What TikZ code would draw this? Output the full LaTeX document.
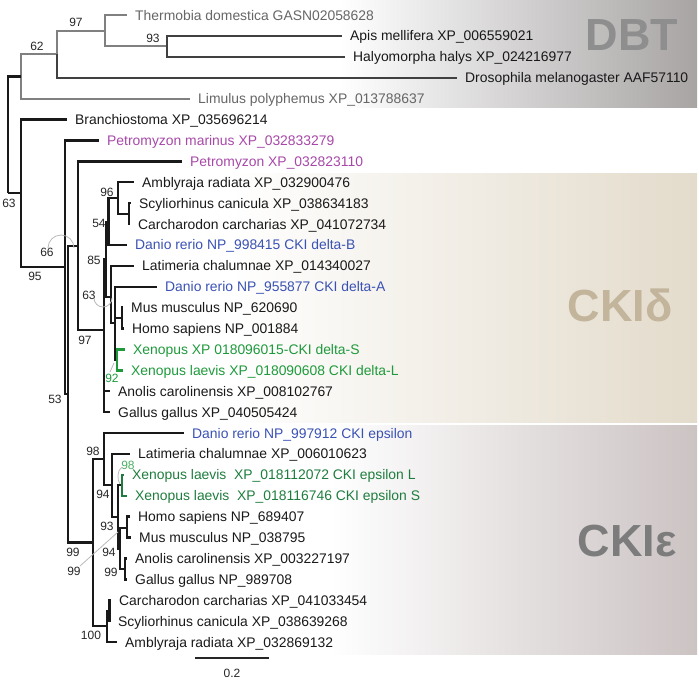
\documentclass[tikz,border=0pt]{standalone}
\usepackage{fontspec}
\setmainfont{Liberation Sans}
\usetikzlibrary{positioning}
\definecolor{dbtbg}{HTML}{A8A4A4}
\definecolor{deltabg}{HTML}{E3DBCB}
\definecolor{epsbg}{HTML}{CCC3C3}
\definecolor{dbttext}{HTML}{8E8E8E}
\definecolor{deltatext}{HTML}{C2B59B}
\definecolor{epstext}{HTML}{7C7C7C}
\definecolor{dbtleaf}{HTML}{666666}
\definecolor{dbtline}{HTML}{808080}
\definecolor{lamprey}{HTML}{A748A8}
\definecolor{danio}{HTML}{3A52B4}
\definecolor{xenoD}{HTML}{1E9A3C}
\definecolor{xenoE}{HTML}{1E7D3E}

\begin{document}
\begin{tikzpicture}[x=1pt, y=-1pt,
    leaf/.style={anchor=west, inner xsep=8pt, inner ysep=0pt, text height=10pt, text depth=0pt,
                 font=\fontsize{13.9}{16}\selectfont, text=black!90},
    boot/.style={inner sep=0pt, font=\fontsize{12}{14}\selectfont, text=black!85},
    clade/.style={inner sep=0pt, font=\bfseries\fontsize{45}{50}\selectfont},
    limb/.style={line width=2.4pt, black!90},
    graylimb/.style={line width=2pt, dbtline},
    darklimb/.style={line width=2pt, black!75},
    greenlimb/.style={line width=2.4pt},
    callout/.style={line width=0.8pt, gray!55}]
    \useasboundingbox (0,0) rectangle (699,681);

    % Clade backgrounds
    \shade[left color=white, right color=dbtbg] (340,0) rectangle (697,107);
    \shade[left color=white, right color=deltabg] (230,173) rectangle (697,422);
    \shade[left color=white, right color=epsbg] (330,425) rectangle (697,654);
    \node[clade, text=dbttext] (dbt) at (632,35) {DBT};
    \node[clade, text=deltatext] (ckid) at (620,305) {CKIδ};
    \node[clade, text=epstext] (ckie) at (627,541) {CKIε};

    % Leaves
    \node[leaf, text=dbtleaf] (thermobia) at (127,15) {Thermobia domestica GASN02058628};
    \node[leaf] (apis) at (342,35.9) {Apis mellifera XP\_006559021};
    \node[leaf] (halyo) at (345,56.8) {Halyomorpha halys XP\_024216977};
    \node[leaf] (droso) at (457,77.7) {Drosophila melanogaster AAF57110};
    \node[leaf, text=dbtleaf] (limulus) at (190,98.6) {Limulus polyphemus XP\_013788637};
    \node[leaf] (branchio) at (67,119.5) {Branchiostoma XP\_035696214};
    \node[leaf, text=lamprey] (petmar) at (99,140.4) {Petromyzon marinus XP\_032833279};
    \node[leaf, text=lamprey] (petro) at (182,161.3) {Petromyzon XP\_032823110};
    % CKI delta
    \node[leaf] (amblyD) at (134,182.2) {Amblyraja radiata XP\_032900476};
    \node[leaf] (scylD) at (131,203.1) {Scyliorhinus canicula XP\_038634183};
    \node[leaf] (carchD) at (130,224) {Carcharodon carcharias XP\_041072734};
    \node[leaf, text=danio] (danioB) at (127,244.9) {Danio rerio NP\_998415 CKI delta-B};
    \node[leaf] (latD) at (134,265.8) {Latimeria chalumnae XP\_014340027};
    \node[leaf, text=danio] (danioA) at (157,286.7) {Danio rerio NP\_955877 CKI delta-A};
    \node[leaf] (musD) at (123,307.6) {Mus musculus NP\_620690};
    \node[leaf] (homoD) at (124,328.5) {Homo sapiens NP\_001884};
    \node[leaf, text=xenoD] (xenS) at (125,349.4) {Xenopus XP 018096015-CKI delta-S};
    \node[leaf, text=xenoD] (xenL) at (123,370.3) {Xenopus laevis XP\_018090608 CKI delta-L};
    \node[leaf] (anoD) at (110,391.2) {Anolis carolinensis XP\_008102767};
    \node[leaf] (galD) at (110,412.1) {Gallus gallus XP\_040505424};
    % CKI epsilon
    \node[leaf, text=danio] (danioE) at (184,433) {Danio rerio NP\_997912 CKI epsilon};
    \node[leaf] (latE) at (130,453.9) {Latimeria chalumnae XP\_006010623};
    \node[leaf, text=xenoE] (xenEL) at (124,474.8) {Xenopus laevis\ \ XP\_018112072 CKI epsilon L};
    \node[leaf, text=xenoE] (xenES) at (127,495.7) {Xenopus laevis\ \ XP\_018116746 CKI epsilon S};
    \node[leaf] (homoE) at (130,516.6) {Homo sapiens NP\_689407};
    \node[leaf] (musE) at (131,537.5) {Mus musculus NP\_038795};
    \node[leaf] (anoE) at (127,558.4) {Anolis carolinensis XP\_003227197};
    \node[leaf] (galE) at (127,579.3) {Gallus gallus NP\_989708};
    \node[leaf] (carchE) at (111,600.2) {Carcharodon carcharias XP\_041033454};
    \node[leaf] (scylE) at (110,621.1) {Scyliorhinus canicula XP\_038639268};
    \node[leaf] (amblyE) at (117,642) {Amblyraja radiata XP\_032869132};

    % Internal nodes
    \coordinate (root) at (8,193);
    \coordinate (nLim) at (21,76.4);
    \coordinate (n62) at (57,54.2);
    \coordinate (n97) at (105,30.7);
    \coordinate (n93) at (167,46.4);
    \coordinate (nChord) at (21,193);
    \coordinate (nA) at (65,267);
    \coordinate (nB) at (68,394);
    \coordinate (nC) at (78,246);
    \coordinate (nDelta) at (104,330);
    \coordinate (n85) at (106,259);
    \coordinate (n54) at (108.5,222);
    \coordinate (n96) at (118,198);
    \coordinate (nSC) at (129,214);
    \coordinate (nLat) at (111,297);
    \coordinate (nTet) at (115,323);
    \coordinate (nMH) at (122,318);
    \coordinate (nXD) at (117,360);
    \coordinate (nEps) at (93,542.5);
    \coordinate (n98) at (104,459);
    \coordinate (n94) at (112,485);
    \coordinate (n93e) at (118,517);
    \coordinate (nXE) at (122,485);
    \coordinate (nAmn) at (120,549);
    \coordinate (nHM) at (127,528);
    \coordinate (nAG) at (125,569);
    \coordinate (nShark) at (107,626);
    \coordinate (nCS) at (109.5,611);

    % Branches
    \foreach \p/\c in {nLim/n62, nLim/limulus.west, n62/n97, n97/thermobia.west, n97/n93}
        \draw[graylimb] (\p) |- (\c);
    \foreach \p/\c in {n93/apis.west, n93/halyo.west, n62/droso.west}
        \draw[darklimb] (\p) |- (\c);
    \foreach \p/\c in {root/nLim, root/nChord, nChord/branchio.west, nChord/nA, nA/petmar.west,
        nA/nB, nB/nC, nB/nEps, nC/petro.west, nC/nDelta, nDelta/n85, nDelta/anoD.west,
        nDelta/galD.west, n85/n54, n85/nLat, n54/n96, n54/danioB.west, n96/amblyD.west,
        n96/nSC, nSC/scylD.west, nSC/carchD.west, nLat/latD.west, nLat/nTet,
        nTet/danioA.west, nTet/nMH, nTet/nXD, nMH/musD.west, nMH/homoD.west,
        nEps/n98, nEps/nShark, n98/danioE.west, n98/n94, n94/latE.west, n94/n93e,
        n93e/nXE, n93e/nAmn, nAmn/nHM, nAmn/nAG, nHM/homoE.west, nHM/musE.west,
        nAG/anoE.west, nAG/galE.west, nShark/nCS, nShark/amblyE.west,
        nCS/carchE.west, nCS/scylE.west}
        \draw[limb] (\p) |- (\c);
    \foreach \c in {xenS, xenL}
        \draw[greenlimb, xenoD] (nXD) |- (\c.west);
    \foreach \c in {xenEL, xenES}
        \draw[greenlimb, xenoE] (nXE) |- (\c.west);

    % Bootstrap values
    \foreach \x/\y/\v [count=\i] in {76/22/97, 153/38/93, 37/46/62, 9/203/63, 35/276/95,
        47/252/66, 55/399/53, 85/340/97, 99/223/54, 107/192/96, 94/260/85, 89/295/63,
        93/451/98, 103/494/94, 107/526/93, 109/552/94, 111/572/99, 73/552/99,
        74/571/99, 91/635/100}
        \node[boot] (bs\i) at (\x,\y) {\v};
    \node[boot, text=xenoD] (bsxd) at (112,378) {92};
    \node[boot, text=xenoD!80] (bsxe) at (128,465) {98};

    % Callouts
    \draw[callout] (48,248) arc[start angle=180, end angle=360, radius=13];
    \draw[callout] (94,298) arc[start angle=180, end angle=0, radius=9];
    \draw[callout] (110,372) -- (114,363);
    \draw[callout] (122,467) .. controls (117,470) and (117,480) .. (120,484);
    \draw[callout] (80,566) -- (118,532);

    % Scale bar
    \coordinate (sbl) at (195,658);
    \coordinate (sbr) at (269,658);
    \draw[line width=1.3pt, black!85] (sbl) -- (sbr);
    \node[boot] (sblabel) at (232,673) {0.2};
\end{tikzpicture}
\end{document}
